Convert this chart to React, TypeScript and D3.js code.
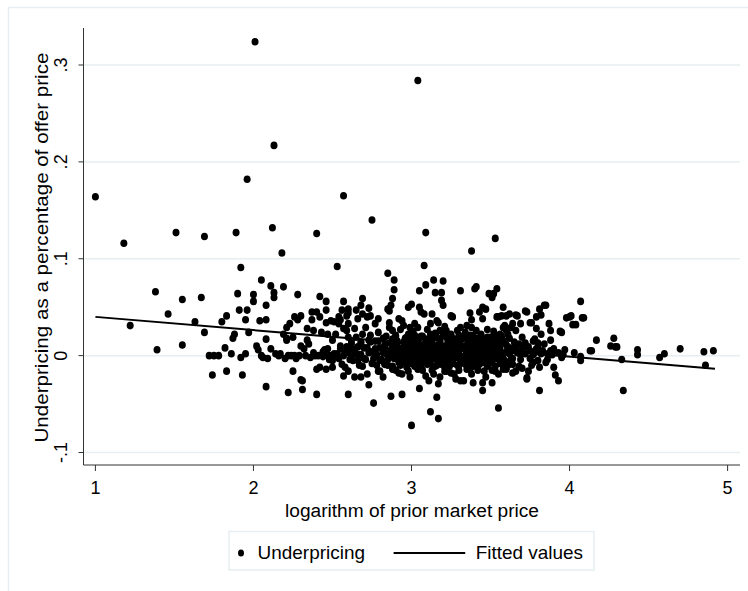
import React from "react";
import * as d3 from "d3";

// ---------- data ----------
const xTicks = [1, 2, 3, 4, 5];
const yTicks = [-0.1, 0, 0.1, 0.2, 0.3];
const yTickLabels = ["-.1", "0", ".1", ".2", ".3"];
const xTitle = "logarithm of prior market price";
const yTitle = "Underpricing as a percentage of offer price";
const legendLabels = ["Underpricing", "Fitted values"];

// fitted line (lfit endpoints)
const fittedX = [1.0, 4.92];
const fittedY = [0.04, -0.0136];

// scatter: [log prior price, underpricing]
const underpricing: [number, number][] = [
  // left region
  [1.0, 0.164], [1.18, 0.116], [1.22, 0.031], [1.38, 0.066], [1.39, 0.006], [1.46, 0.043],
  [1.51, 0.127], [1.55, 0.058], [1.55, 0.011], [1.63, 0.035], [1.67, 0.06], [1.69, 0.123],
  [1.69, 0.024], [1.72, 0.0], [1.75, 0.0], [1.78, 0.0], [1.74, -0.02], [1.8, 0.035],
  [1.83, 0.041], [1.82, 0.008], [1.83, -0.016], [1.86, 0.002], [1.87, 0.018], [1.88, 0.022],
  [1.89, 0.127], [1.9, 0.064], [1.91, 0.047], [1.92, 0.091], [1.92, -0.002], [1.93, -0.02],
  [1.95, 0.037], [1.96, 0.047], [1.96, 0.182], [1.95, 0.002], [1.97, 0.024], [2.0, 0.063],
  [2.0, 0.056], [2.01, 0.324], [2.02, 0.01], [2.03, 0.006], [2.04, 0.036], [2.05, 0.078],
  [2.05, 0.0], [2.06, -0.002], [2.08, 0.037], [2.08, 0.052], [2.08, 0.017], [2.08, -0.032],
  [2.09, -0.003], [2.11, 0.072], [2.11, 0.007], [2.12, 0.132], [2.13, 0.065], [2.13, 0.06],
  [2.13, 0.217], [2.14, 0.002], [2.17, 0.002], [2.18, 0.106], [2.19, 0.071], [2.19, 0.022],
  [2.2, -0.003], [2.21, 0.029], [2.21, 0.016], [2.21, 0.018],
  [2.16, 0.0], [2.22, 0.0], [2.26, 0.0], [2.29, 0.0], [2.33, 0.0], [2.36, -0.002], [2.41, 0.0],
  [2.44, -0.001], [2.48, 0.0], [2.52, 0.0],
  // 2.2 - 2.6
  [2.23, 0.033], [2.22, -0.038], [2.24, 0.0], [2.25, 0.019], [2.25, -0.016], [2.26, 0.04],
  [2.27, -0.003], [2.28, 0.063], [2.28, 0.037], [2.3, 0.041], [2.3, 0.01], [2.3, -0.025],
  [2.31, -0.035], [2.31, -0.026], [2.32, 0.007], [2.34, 0.028], [2.34, 0.016], [2.35, 0.012],
  [2.37, 0.045], [2.37, 0.037], [2.38, 0.026], [2.38, 0.003], [2.39, 0.0], [2.4, 0.126],
  [2.4, 0.045], [2.4, -0.014], [2.4, -0.04], [2.42, 0.061], [2.42, 0.04], [2.42, -0.012],
  [2.43, 0.024], [2.44, 0.004], [2.45, 0.006], [2.46, 0.056], [2.46, 0.047], [2.46, 0.034],
  [2.46, -0.014], [2.47, 0.022], [2.47, 0.007], [2.49, 0.036], [2.5, -0.012], [2.5, -0.005],
  [2.5, 0.016], [2.51, 0.035], [2.52, 0.022], [2.53, 0.002], [2.53, 0.092], [2.54, 0.04],
  [2.54, 0.033], [2.55, 0.037], [2.55, 0.01], [2.56, 0.047], [2.56, -0.009], [2.57, 0.056],
  [2.57, 0.028], [2.57, 0.0], [2.57, -0.021], [2.57, 0.165], [2.58, -0.012], [2.59, 0.041],
  [2.59, 0.026], [2.59, 0.009], [2.6, 0.048], [2.6, 0.044], [2.6, 0.033], [2.6, 0.019],
  [2.6, 0.003], [2.6, -0.016], [2.6, -0.04],
  // 2.6 - 3.0
  [2.62, 0.012], [2.63, -0.005], [2.64, 0.028], [2.64, 0.006], [2.64, -0.022], [2.65, 0.047],
  [2.65, 0.019], [2.66, 0.038], [2.66, 0.001], [2.67, -0.01], [2.68, 0.052], [2.68, 0.014],
  [2.68, -0.022], [2.69, 0.059], [2.69, 0.043], [2.69, 0.022], [2.7, 0.008], [2.7, -0.003],
  [2.71, 0.029], [2.72, 0.04], [2.72, -0.019], [2.73, 0.049], [2.73, 0.016], [2.73, -0.03],
  [2.74, 0.041], [2.74, 0.021], [2.74, 0.004], [2.75, 0.14], [2.75, -0.008], [2.76, -0.049],
  [2.77, 0.033], [2.77, 0.015], [2.78, 0.001], [2.79, 0.038], [2.79, 0.024], [2.8, -0.016],
  [2.8, 0.008], [2.81, -0.004], [2.82, 0.018], [2.82, -0.022], [2.83, 0.011], [2.84, 0.002],
  [2.85, 0.085], [2.85, 0.048], [2.85, -0.01], [2.86, 0.034], [2.86, 0.029], [2.86, 0.046],
  [2.87, 0.052], [2.87, -0.042], [2.88, 0.059], [2.88, 0.026], [2.88, 0.015], [2.88, -0.014],
  [2.89, 0.068], [2.89, 0.078], [2.89, 0.005], [2.9, 0.02], [2.9, -0.003], [2.91, 0.012],
  [2.92, 0.038], [2.92, -0.018], [2.93, 0.027], [2.93, -0.006], [2.94, 0.036], [2.94, -0.019],
  [2.94, -0.04], [2.95, 0.031], [2.95, 0.008], [2.96, 0.001], [2.96, 0.018], [2.97, -0.012],
  [2.98, 0.05], [2.98, 0.022], [2.98, 0.005], [2.99, 0.029], [2.99, -0.022], [3.0, 0.053],
  [3.0, -0.072], [3.0, 0.012], [3.0, -0.004],
  // 3.0 - 3.3
  [3.01, 0.025], [3.02, 0.033], [3.02, 0.003], [3.03, -0.009], [3.03, 0.016], [3.04, 0.029],
  [3.04, 0.284], [3.04, -0.001], [3.05, 0.067], [3.05, 0.05], [3.05, -0.034], [3.05, 0.009],
  [3.06, 0.045], [3.06, 0.02], [3.07, -0.015], [3.07, 0.002], [3.08, 0.043], [3.08, 0.093],
  [3.08, 0.012], [3.09, 0.127], [3.09, 0.073], [3.09, -0.021], [3.1, 0.027], [3.1, 0.006],
  [3.11, -0.026], [3.11, -0.006], [3.12, 0.033], [3.12, -0.058], [3.12, 0.017], [3.13, 0.043],
  [3.13, 0.001], [3.14, 0.078], [3.14, -0.019], [3.15, 0.065], [3.15, 0.01], [3.15, 0.023],
  [3.16, 0.036], [3.16, -0.043], [3.16, -0.01], [3.17, 0.034], [3.17, 0.004], [3.17, -0.065],
  [3.17, -0.029], [3.18, 0.026], [3.18, -0.022], [3.18, 0.015], [3.19, 0.065], [3.19, 0.057],
  [3.19, -0.002], [3.2, 0.077], [3.2, 0.052], [3.2, 0.008], [3.21, 0.03], [3.21, -0.012],
  [3.22, 0.026], [3.22, 0.019], [3.22, -0.016], [3.23, 0.003], [3.24, 0.012], [3.24, -0.006],
  [3.25, 0.041], [3.25, 0.022], [3.25, -0.018], [3.26, 0.04], [3.26, 0.007], [3.27, -0.019],
  [3.27, 0.0], [3.28, 0.015], [3.28, -0.024], [3.29, 0.026], [3.29, 0.004],
  // 3.3 - 3.6
  [3.3, -0.01], [3.31, 0.029], [3.31, 0.067], [3.31, 0.01], [3.31, -0.026], [3.32, 0.018],
  [3.33, -0.003], [3.33, -0.026], [3.34, 0.024], [3.34, 0.006], [3.35, 0.031], [3.35, -0.014],
  [3.36, 0.013], [3.37, 0.044], [3.37, 0.001], [3.37, 0.021], [3.38, 0.108], [3.38, 0.029],
  [3.38, -0.019], [3.38, 0.037], [3.39, 0.008], [3.39, -0.028], [3.4, 0.069], [3.4, 0.017],
  [3.4, -0.007], [3.41, 0.026], [3.41, 0.003], [3.41, 0.071], [3.42, -0.015], [3.43, 0.045],
  [3.43, 0.012], [3.44, 0.022], [3.44, -0.004], [3.45, 0.05], [3.45, 0.038], [3.45, -0.036],
  [3.45, -0.028], [3.46, 0.015], [3.46, 0.006], [3.47, 0.048], [3.47, -0.022], [3.48, 0.027],
  [3.48, -0.011], [3.49, 0.064], [3.49, 0.002], [3.5, 0.019], [3.5, 0.01], [3.51, 0.06],
  [3.51, -0.028], [3.51, -0.003], [3.52, 0.064], [3.52, 0.025], [3.53, 0.121], [3.53, 0.014],
  [3.53, -0.016], [3.54, 0.069], [3.54, 0.04], [3.54, 0.005], [3.55, 0.04], [3.55, -0.019],
  [3.55, -0.054], [3.56, 0.022], [3.56, -0.008], [3.57, 0.041], [3.57, 0.013], [3.58, 0.05],
  [3.58, 0.029], [3.58, 0.001], [3.58, -0.01],
  // 3.6 - 4.0
  [3.59, 0.031], [3.6, 0.041], [3.6, 0.026], [3.6, -0.014], [3.61, 0.022], [3.61, 0.008],
  [3.62, 0.043], [3.62, 0.007], [3.63, 0.029], [3.63, -0.004], [3.64, 0.033], [3.64, -0.009],
  [3.64, -0.018], [3.65, 0.009], [3.66, 0.026], [3.66, 0.042], [3.66, -0.016], [3.67, 0.041],
  [3.68, 0.012], [3.69, 0.033], [3.69, 0.001], [3.71, 0.009], [3.72, 0.046], [3.73, 0.045],
  [3.73, -0.023], [3.73, -0.024], [3.74, -0.016], [3.75, 0.005], [3.75, 0.034], [3.76, 0.034],
  [3.77, -0.007], [3.78, 0.003], [3.79, 0.04], [3.79, 0.028], [3.79, 0.007], [3.8, 0.013],
  [3.81, 0.048], [3.81, -0.012], [3.81, -0.036], [3.82, 0.042], [3.82, 0.022], [3.83, 0.005],
  [3.84, 0.052], [3.85, 0.052], [3.85, -0.007], [3.86, 0.002], [3.87, 0.033], [3.88, 0.026],
  [3.88, 0.016], [3.88, 0.005], [3.9, -0.012], [3.91, -0.02], [3.93, 0.003], [3.93, -0.026],
  [3.94, 0.025], [3.95, 0.024], [3.95, -0.002], [3.97, 0.006], [3.98, 0.039], [4.0, 0.04],
  [4.01, 0.041],
  // right region
  [4.02, 0.032], [4.03, 0.003], [4.04, 0.032], [4.07, 0.056], [4.07, -0.001], [4.07, -0.005],
  [4.08, 0.039], [4.09, 0.039], [4.13, 0.005], [4.14, 0.005], [4.17, 0.016], [4.26, 0.01],
  [4.28, 0.018], [4.29, 0.009], [4.3, 0.009], [4.33, -0.004], [4.34, -0.036], [4.43, 0.006],
  [4.43, 0.001], [4.57, -0.002], [4.6, 0.002], [4.7, 0.007], [4.85, 0.004], [4.86, -0.01],
  [4.91, 0.005],
  // dense core
  [2.84, 0.02], [2.9, 0.021], [2.97, 0.019], [3.02, 0.021], [3.07, 0.02], [3.12, 0.022],
  [3.16, 0.019], [3.2, 0.021], [3.25, 0.02], [3.3, 0.021], [3.35, 0.019], [3.39, 0.021],
  [3.44, 0.02], [3.48, 0.019], [3.53, 0.021], [3.57, 0.02], [3.62, 0.018], [3.7, 0.019],
  [3.78, 0.017],
  [2.62, 0.015], [2.68, 0.013], [2.74, 0.014], [2.79, 0.015], [2.86, 0.013], [2.91, 0.015],
  [2.95, 0.014], [2.99, 0.013], [3.04, 0.015], [3.09, 0.014], [3.13, 0.013], [3.18, 0.015],
  [3.23, 0.014], [3.27, 0.013], [3.31, 0.015], [3.36, 0.014], [3.41, 0.013], [3.45, 0.015],
  [3.5, 0.014], [3.54, 0.013], [3.59, 0.015], [3.65, 0.014], [3.72, 0.013], [3.77, 0.015],
  [3.84, 0.012],
  [2.55, 0.007], [2.61, 0.008], [2.66, 0.009], [2.72, 0.008], [2.77, 0.007], [2.83, 0.008],
  [2.88, 0.009], [2.93, 0.007], [2.97, 0.009], [3.01, 0.008], [3.06, 0.007], [3.11, 0.009],
  [3.15, 0.008], [3.19, 0.007], [3.23, 0.009], [3.28, 0.008], [3.33, 0.009], [3.37, 0.007],
  [3.42, 0.008], [3.47, 0.009], [3.52, 0.008], [3.56, 0.007], [3.61, 0.009], [3.66, 0.008],
  [3.7, 0.006], [3.74, 0.009], [3.8, 0.008], [3.9, 0.007],
  [2.45, 0.001], [2.51, 0.002], [2.58, 0.003], [2.63, 0.002], [2.68, 0.001], [2.73, 0.003],
  [2.77, 0.002], [2.82, 0.003], [2.87, 0.001], [2.92, 0.002], [2.96, 0.003], [3.0, 0.002],
  [3.05, 0.003], [3.09, 0.001], [3.14, 0.003], [3.18, 0.002], [3.22, 0.001], [3.26, 0.003],
  [3.3, 0.002], [3.35, 0.001], [3.39, 0.003], [3.43, 0.002], [3.48, 0.003], [3.53, 0.001],
  [3.57, 0.003], [3.62, 0.002], [3.67, 0.003], [3.72, 0.002], [3.77, 0.001], [3.82, 0.002],
  [3.89, 0.001], [3.96, 0.001],
  [2.48, -0.004], [2.54, -0.003], [2.61, -0.004], [2.66, -0.005], [2.71, -0.004], [2.76, -0.003],
  [2.8, -0.005], [2.85, -0.004], [2.89, -0.003], [2.94, -0.005], [2.98, -0.004], [3.02, -0.003],
  [3.06, -0.005], [3.1, -0.004], [3.14, -0.003], [3.18, -0.005], [3.22, -0.004], [3.27, -0.003],
  [3.31, -0.005], [3.36, -0.004], [3.4, -0.003], [3.45, -0.005], [3.49, -0.004], [3.54, -0.003],
  [3.59, -0.005], [3.64, -0.003], [3.69, -0.004], [3.75, -0.003], [3.8, -0.005], [3.86, -0.004],
  [2.69, -0.011], [2.78, -0.01], [2.83, -0.009], [2.88, -0.011], [2.93, -0.01], [2.97, -0.009],
  [3.02, -0.011], [3.06, -0.01], [3.1, -0.009], [3.15, -0.011], [3.19, -0.009], [3.24, -0.011],
  [3.29, -0.01], [3.34, -0.009], [3.39, -0.011], [3.43, -0.009], [3.48, -0.01], [3.53, -0.011],
  [3.61, -0.01], [3.68, -0.011], [3.76, -0.01],
  [2.79, -0.016], [2.9, -0.015], [2.98, -0.016], [3.04, -0.014], [3.13, -0.015], [3.21, -0.016],
  [3.3, -0.015], [3.37, -0.014], [3.46, -0.016], [3.51, -0.015], [3.58, -0.014], [3.7, -0.013],
  // extra core fill
  [2.88, 0.017], [3.0, 0.017], [3.05, 0.018], [3.1, 0.017], [3.14, 0.018], [3.27, 0.017],
  [3.33, 0.018], [3.38, 0.017], [3.42, 0.018], [3.46, 0.017], [3.51, 0.018], [3.55, 0.017],
  [2.9, 0.011], [2.97, 0.011], [3.03, 0.011], [3.08, 0.01], [3.13, 0.011], [3.17, 0.011],
  [3.21, 0.01], [3.26, 0.011], [3.3, 0.012], [3.35, 0.011], [3.39, 0.012], [3.44, 0.011],
  [3.49, 0.012], [3.54, 0.01], [3.6, 0.011],
  [2.86, 0.005], [2.95, 0.004], [2.99, 0.005], [3.04, 0.006], [3.08, 0.004], [3.13, 0.005],
  [3.17, 0.006], [3.21, 0.005], [3.25, 0.005], [3.3, 0.006], [3.35, 0.004], [3.4, 0.005],
  [3.45, 0.006], [3.5, 0.004], [3.55, 0.005], [3.6, 0.004], [3.64, 0.005],
  [2.9, -0.001], [2.94, -0.001], [2.98, 0.0], [3.03, -0.001], [3.07, -0.001], [3.11, 0.0],
  [3.16, -0.001], [3.2, -0.001], [3.24, 0.0], [3.29, -0.001], [3.33, -0.001], [3.37, 0.0],
  [3.42, -0.001], [3.46, -0.001], [3.51, 0.0], [3.56, -0.001],
  [2.92, -0.007], [2.96, -0.007], [3.0, -0.008], [3.04, -0.007], [3.08, -0.007], [3.12, -0.008],
  [3.17, -0.007], [3.21, -0.007], [3.26, -0.008], [3.32, -0.007], [3.37, -0.007], [3.41, -0.008],
  [3.46, -0.007], [3.51, -0.007], [3.57, -0.006],
];

// ---------- layout ----------
const W = 748;
const H = 591;
const axisLeft = 83.5;
const axisBottom = 465;
const plotRight = 740;
const plotTop = 28;
const FONT = "'Liberation Sans', Arial, Helvetica, sans-serif";
const GRID = "#e7eef1";

export default function App() {
  const x = d3.scaleLinear().domain([1, 5]).range([95.4, 727.6]);
  const y = d3.scaleLinear().domain([-0.1, 0.3]).range([452.5, 65]);
  const line = d3
    .line<number>()
    .x((_, i) => x(fittedX[i]))
    .y((d) => y(d));

  return (
    <svg
      width={W}
      height={H}
      style={{ position: "absolute", left: 0, top: 0, background: "#fff" }}
      fontFamily={FONT}
    >
      <rect x={0} y={0} width={W} height={H} fill="#fff" />
      {/* outer frame */}
      <rect x={8.5} y={7.5} width={W + 20} height={H + 20} fill="none" stroke={GRID} strokeWidth={1.5} />

      {/* gridlines */}
      {yTicks.map((t) => (
        <line key={"g" + t} x1={axisLeft} x2={plotRight} y1={y(t)} y2={y(t)} stroke={GRID} strokeWidth={1.5} />
      ))}

      {/* points */}
      <g fill="#000">
        {underpricing.map(([a, b], i) => (
          <ellipse key={i} cx={x(a)} cy={y(b)} rx={3.5} ry={3.8} />
        ))}
      </g>

      {/* fitted line */}
      <path d={line(fittedY) || ""} fill="none" stroke="#000" strokeWidth={2} />

      {/* axes */}
      <line x1={axisLeft} x2={axisLeft} y1={plotTop} y2={axisBottom} stroke="#333" strokeWidth={1} />
      <line x1={axisLeft} x2={plotRight} y1={axisBottom} y2={axisBottom} stroke="#333" strokeWidth={1} />

      {yTicks.map((t, i) => (
        <g key={"yt" + t}>
          <line x1={axisLeft - 5} x2={axisLeft} y1={y(t)} y2={y(t)} stroke="#333" />
          <text
            transform={`translate(67,${y(t)}) rotate(-90)`}
            textAnchor="middle"
            fontSize={18}
            fill="#000"
          >
            {yTickLabels[i]}
          </text>
        </g>
      ))}

      {xTicks.map((t) => (
        <g key={"xt" + t}>
          <line x1={x(t)} x2={x(t)} y1={axisBottom} y2={axisBottom + 6} stroke="#333" />
          <text x={x(t)} y={494} textAnchor="middle" fontSize={18} fill="#000">
            {t}
          </text>
        </g>
      ))}

      {/* axis titles */}
      <text x={412} y={517} textAnchor="middle" fontSize={18} fill="#000" textLength={254} lengthAdjust="spacingAndGlyphs">
        {xTitle}
      </text>
      <text
        transform={`translate(47.5,${(52.7 + 442.4) / 2}) rotate(-90)`}
        textAnchor="middle"
        fontSize={19}
        fill="#000"
        textLength={390}
        lengthAdjust="spacingAndGlyphs"
      >
        {yTitle}
      </text>

      {/* legend */}
      <rect x={229} y={531.5} width={365} height={38.5} fill="#fff" stroke={GRID} strokeWidth={1.5} />
      <ellipse cx={241} cy={553} rx={3} ry={3.6} fill="#000" />
      <text x={257.6} y={558.5} fontSize={19} fill="#000" textLength={107.4} lengthAdjust="spacingAndGlyphs">
        {legendLabels[0]}
      </text>
      <line x1={393.6} x2={465.2} y1={553} y2={553} stroke="#000" strokeWidth={2} />
      <text x={475.7} y={558.5} fontSize={19} fill="#000" textLength={107.3} lengthAdjust="spacingAndGlyphs">
        {legendLabels[1]}
      </text>
    </svg>
  );
}
